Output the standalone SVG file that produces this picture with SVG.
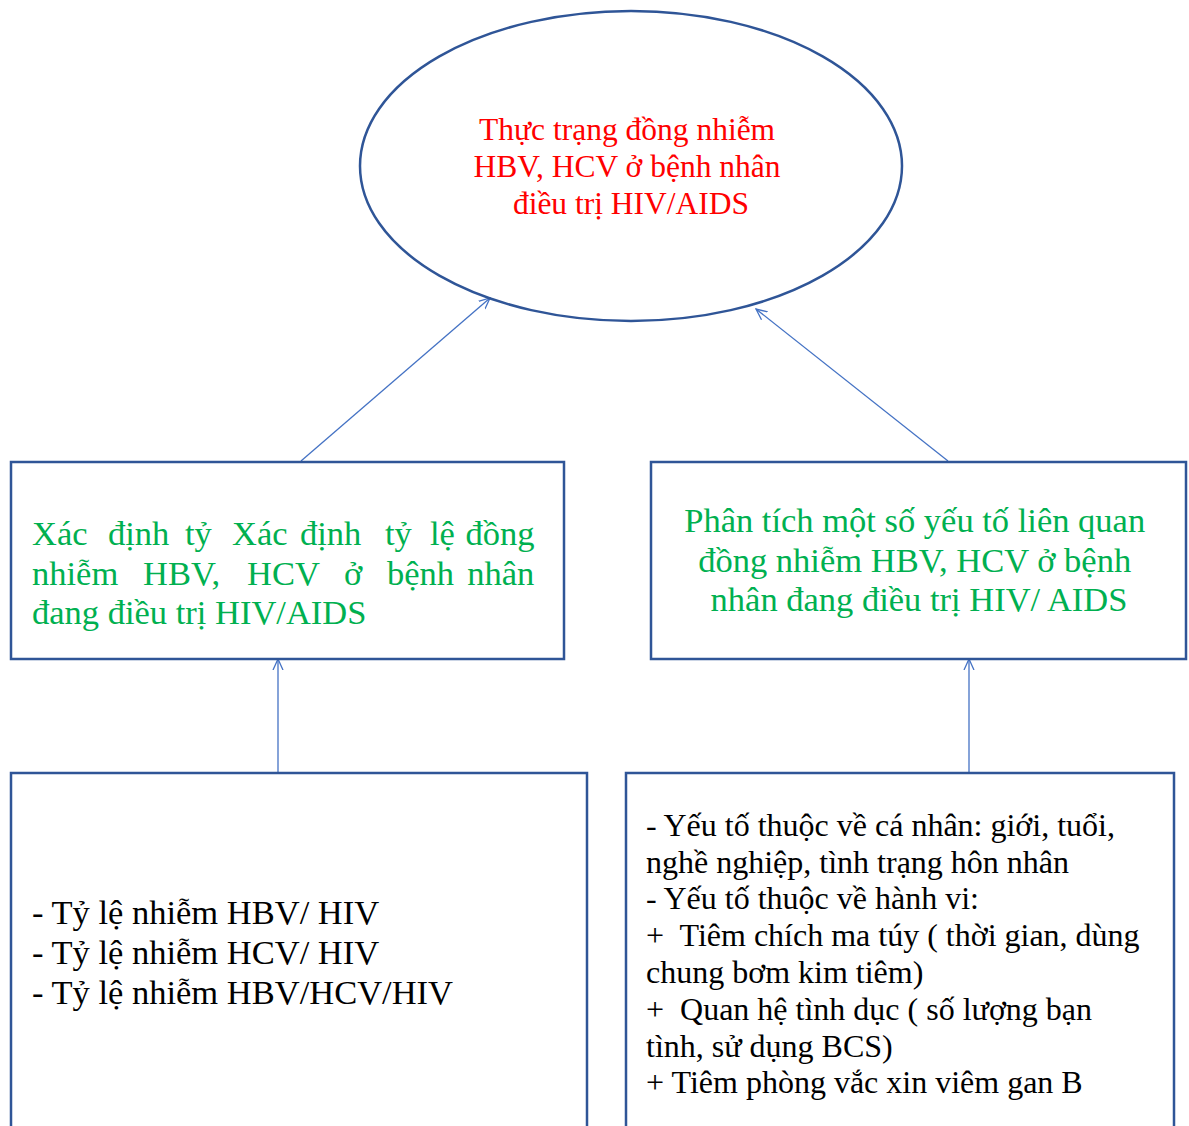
<svg xmlns="http://www.w3.org/2000/svg" width="1189" height="1126" viewBox="0 0 1189 1126">
<style>
.box{fill:#fff;stroke:#2F5597;stroke-width:2.5}
.conn{stroke:#4472C4;stroke-width:1.3;fill:none}
.t{font-family:"Liberation Serif","Times New Roman",serif}
.red{fill:#FF0000;font-size:31.5px}
.green{fill:#00B050;font-size:34.5px}
.black{fill:#000;font-size:32px}
.black2{fill:#000;font-size:34.5px}
</style>
<defs>
<marker id="arr" viewBox="0 0 12 12" refX="11" refY="6" markerWidth="12" markerHeight="12" markerUnits="userSpaceOnUse" orient="auto">
<path d="M0,1 L11,6 L0,11" fill="none" stroke="#4472C4" stroke-width="1.3"/>
</marker>
</defs>
<rect width="1189" height="1126" fill="#fff"/>
<g id="connectors">
<line class="conn" x1="301" y1="461" x2="490" y2="298" marker-end="url(#arr)"/>
<line class="conn" x1="948" y1="461" x2="756" y2="309" marker-end="url(#arr)"/>
<line class="conn" x1="278" y1="773" x2="278" y2="659" marker-end="url(#arr)"/>
<line class="conn" x1="969" y1="773" x2="969" y2="659" marker-end="url(#arr)"/>
</g>
<g id="goal">
<ellipse cx="631" cy="166" rx="271" ry="155" fill="none" stroke="#2F5597" stroke-width="2.5"/>
<text class="t red" text-anchor="middle">
<tspan x="631" y="140">Thực trạng đồng nhiễm</tspan>
<tspan x="631" y="177">HBV, HCV ở bệnh nhân</tspan>
<tspan x="631" y="214">điều trị HIV/AIDS</tspan>
</text>
</g>
<g id="objective1">
<rect class="box" x="11" y="462" width="553" height="197"/>
<text class="t green">
<tspan x="32" y="545">Xác</tspan><tspan x="108" y="545">định</tspan><tspan x="185" y="545">tỷ</tspan><tspan x="232" y="545">Xác</tspan><tspan x="300" y="545">định</tspan><tspan x="385" y="545">tỷ</tspan><tspan x="430" y="545">lệ</tspan><tspan x="543" y="545" text-anchor="end">đồng</tspan>
<tspan x="32" y="585">nhiễm</tspan><tspan x="143" y="585">HBV,</tspan><tspan x="247" y="585">HCV</tspan><tspan x="344" y="585">ở</tspan><tspan x="387" y="585">bệnh</tspan><tspan x="543" y="585" text-anchor="end">nhân</tspan>
<tspan x="32" y="624">đang điều trị HIV/AIDS</tspan>
</text>
</g>
<g id="objective2">
<rect class="box" x="651" y="462" width="535" height="197"/>
<text class="t green" text-anchor="middle">
<tspan x="919" y="532">Phân tích một số yếu tố liên quan</tspan>
<tspan x="919" y="572">đồng nhiễm HBV, HCV ở bệnh</tspan>
<tspan x="919" y="611">nhân đang điều trị HIV/ AIDS</tspan>
</text>
</g>
<g id="content1">
<rect class="box" x="11" y="773" width="576" height="360"/>
<text class="t black2">
<tspan x="32" y="924">- Tỷ lệ nhiễm HBV/ HIV</tspan>
<tspan x="32" y="964">- Tỷ lệ nhiễm HCV/ HIV</tspan>
<tspan x="32" y="1004">- Tỷ lệ nhiễm HBV/HCV/HIV</tspan>
</text>
</g>
<g id="content2">
<rect class="box" x="626" y="773" width="548" height="360"/>
<text class="t black">
<tspan x="646" y="836">- Yếu tố thuộc về cá nhân: giới, tuổi,</tspan>
<tspan x="646" y="873">nghề nghiệp, tình trạng hôn nhân</tspan>
<tspan x="646" y="909">- Yếu tố thuộc về hành vi:</tspan>
<tspan x="646" y="946" xml:space="preserve">+  Tiêm chích ma túy ( thời gian, dùng</tspan>
<tspan x="646" y="983">chung bơm kim tiêm)</tspan>
<tspan x="646" y="1020" xml:space="preserve">+  Quan hệ tình dục ( số lượng bạn</tspan>
<tspan x="646" y="1057">tình, sử dụng BCS)</tspan>
<tspan x="646" y="1093">+ Tiêm phòng vắc xin viêm gan B</tspan>
</text>
</g>
</svg>
